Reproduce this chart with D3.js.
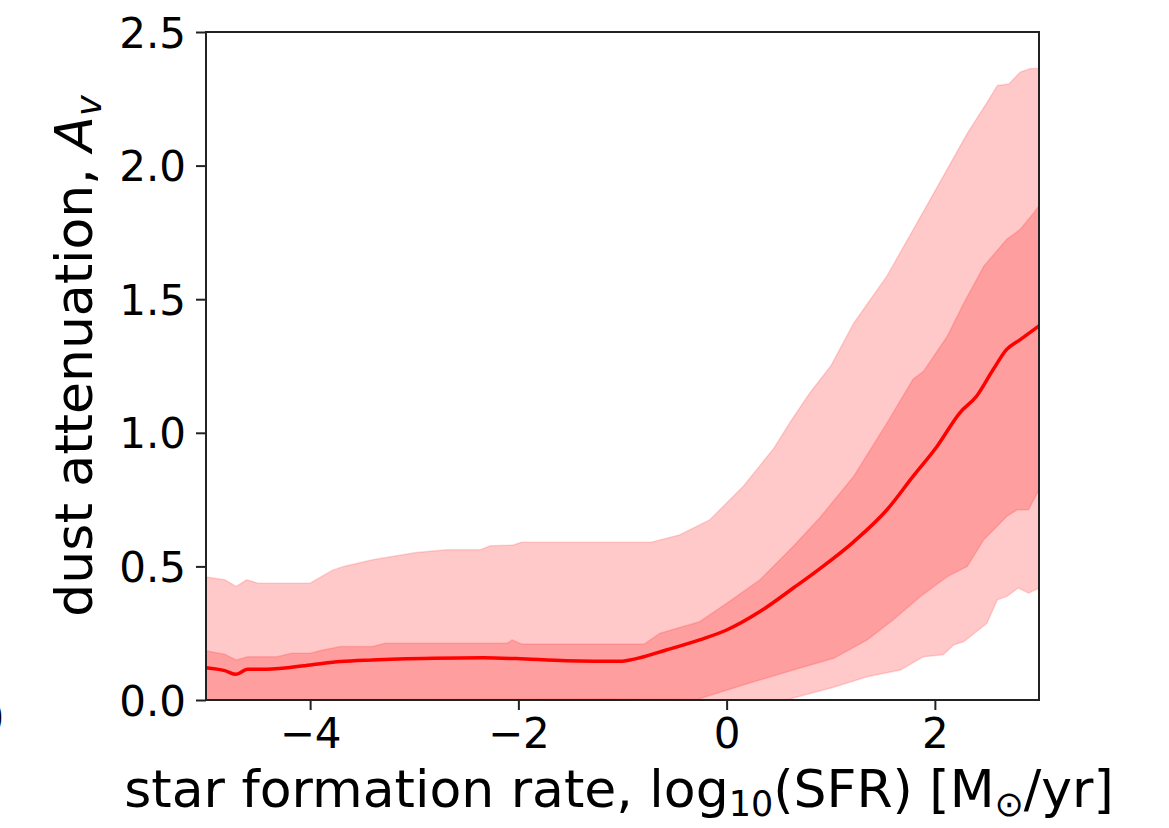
<!DOCTYPE html>
<html>
<head>
<meta charset="utf-8">
<script src="https://cdn.jsdelivr.net/npm/d3@7"></script>
<style>
  body { margin: 0; background: #fff; }
  text { font-family: "DejaVu Sans", sans-serif; fill: #000; }
</style>
</head>
<body>
<div id="chart"></div>
<script>
// percentile bands of A_v versus log10(SFR)
var outerUpper = [[-5, 0.46], [-4.82, 0.45], [-4.71, 0.425], [-4.61, 0.45], [-4.5, 0.437], [-4.0, 0.437],
  [-3.79, 0.485], [-3.68, 0.50], [-3.40, 0.525], [-3.17, 0.54], [-2.98, 0.552], [-2.69, 0.562],
  [-2.37, 0.562], [-2.27, 0.577], [-2.05, 0.58], [-1.97, 0.59], [-0.73, 0.59], [-0.45, 0.618],
  [-0.16, 0.675], [0.16, 0.80], [0.45, 0.94], [0.61, 1.04], [0.8, 1.15], [1.0, 1.25], [1.22, 1.41],
  [1.54, 1.587], [1.83, 1.787], [2.08, 1.96], [2.31, 2.12], [2.50, 2.236], [2.60, 2.30], [2.71, 2.305],
  [2.82, 2.35], [2.92, 2.363], [3.0, 2.363]];
var outerLower = [[-5, 0], [0.57, 0], [1.02, 0.047], [1.35, 0.087], [1.67, 0.112], [1.89, 0.162],
  [2.08, 0.169], [2.18, 0.206], [2.28, 0.219], [2.50, 0.287], [2.60, 0.375], [2.69, 0.387],
  [2.80, 0.419], [2.90, 0.40], [3.0, 0.419]];
var innerUpper = [[-5, 0.184], [-4.82, 0.171], [-4.71, 0.15], [-4.6, 0.162], [-4.32, 0.162], [-4.18, 0.175],
  [-4.0, 0.175], [-3.9, 0.185], [-3.71, 0.20], [-3.40, 0.20], [-3.28, 0.212], [-2.11, 0.212],
  [-2.06, 0.225], [-1.97, 0.21], [-0.79, 0.21], [-0.64, 0.25], [-0.26, 0.293], [0.0, 0.362],
  [0.32, 0.45], [0.64, 0.575], [0.89, 0.68], [1.22, 0.837], [1.54, 1.037], [1.79, 1.20], [1.89, 1.23],
  [2.12, 1.362], [2.28, 1.487], [2.47, 1.624], [2.69, 1.724], [2.82, 1.762], [2.95, 1.824], [3.0, 1.85]];
var innerLower = [[-5, 0], [-0.26, 0.005], [0.16, 0.056], [0.64, 0.112], [1.03, 0.156], [1.35, 0.225],
  [1.60, 0.30], [1.86, 0.387], [2.12, 0.462], [2.31, 0.50], [2.47, 0.60], [2.69, 0.687], [2.79, 0.712],
  [2.90, 0.712], [3.0, 0.787]];
var median = [[-5, 0.121], [-4.82, 0.11], [-4.71, 0.096], [-4.6, 0.115], [-4.42, 0.115], [-4.0, 0.131],
  [-3.71, 0.144], [-3.40, 0.15], [-2.82, 0.156], [-2.34, 0.158], [-2.02, 0.155], [-1.54, 0.147],
  [-1.02, 0.145], [-0.9, 0.152], [-0.58, 0.187], [-0.26, 0.225], [0.0, 0.262], [0.32, 0.331],
  [0.64, 0.419], [0.89, 0.49], [1.22, 0.592], [1.54, 0.712], [1.79, 0.837], [2.02, 0.949],
  [2.24, 1.075], [2.40, 1.137], [2.56, 1.237], [2.69, 1.312], [2.82, 1.349], [3.0, 1.40]];

var xTicks = [-4, -2, 0, 2];
var yTicks = [0, 0.5, 1.0, 1.5, 2.0, 2.5];

var width = 1169,
    height = 828,
    margin = {top: 32, right: 130, bottom: 128, left: 206};

var svg = d3.select("#chart").append("svg")
    .attr("width", width)
    .attr("height", height);

var x = d3.scaleLinear()
    .domain([-5, 3])
    .range([margin.left, width - margin.right]);

var y = d3.scaleLinear()
    .domain([0, 2.5])
    .range([height - margin.bottom, margin.top]);

var line = d3.line()
    .x(function(d) { return x(d[0]); })
    .y(function(d) { return y(d[1]); });

// band = upper edge then lower edge walked backwards
function band(upper, lower) {
  return line(upper.concat(lower.slice().reverse())) + "Z";
}

svg.append("clipPath")
    .attr("id", "plot-clip")
  .append("rect")
    .attr("x", margin.left)
    .attr("y", margin.top)
    .attr("width", width - margin.left - margin.right)
    .attr("height", height - margin.top - margin.bottom);

var plot = svg.append("g").attr("clip-path", "url(#plot-clip)");

plot.append("path")
    .attr("d", band(outerUpper, outerLower))
    .attr("fill", "#ff0000")
    .attr("fill-opacity", 0.21)
    .attr("stroke", "#ff0000")
    .attr("stroke-opacity", 0.15)
    .attr("stroke-width", 1.5);

plot.append("path")
    .attr("d", band(innerUpper, innerLower))
    .attr("fill", "#ff0000")
    .attr("fill-opacity", 0.21)
    .attr("stroke", "#ff0000")
    .attr("stroke-opacity", 0.15)
    .attr("stroke-width", 1.5);

plot.append("path")
    .attr("d", d3.line()
      .x(function(d) { return x(d[0]); })
      .y(function(d) { return y(d[1]); })
      .curve(d3.curveMonotoneX)(median))
    .attr("fill", "none")
    .attr("stroke", "#ff0000")
    .attr("stroke-width", 3.5);

// axes
var xAxis = svg.append("g")
    .attr("transform", "translate(0," + (height - margin.bottom) + ")")
    .call(d3.axisBottom(x).tickValues(xTicks).tickSize(10).tickPadding(8)
      .tickFormat(function(d) { return d < 0 ? "\u2212" + Math.abs(d) : d; }));

var yAxis = svg.append("g")
    .attr("transform", "translate(" + margin.left + ",0)")
    .call(d3.axisLeft(y).tickValues(yTicks).tickSize(10).tickPadding(10).tickFormat(d3.format(".1f")));

[xAxis, yAxis].forEach(function(a) {
  a.select(".domain").remove();
  a.selectAll(".tick line").attr("stroke", "#222").attr("stroke-width", 2);
  a.selectAll(".tick text").style("font-size", "42px").attr("fill", "#000");
});
yAxis.selectAll(".tick text").attr("dy", "0.36em");

// frame
svg.append("rect")
    .attr("x", margin.left)
    .attr("y", margin.top)
    .attr("width", width - margin.left - margin.right)
    .attr("height", height - margin.top - margin.bottom)
    .attr("fill", "none")
    .attr("stroke", "#222")
    .attr("stroke-width", 2);

// axis labels
var xl = svg.append("text")
    .attr("x", 619)
    .attr("y", 807)
    .attr("text-anchor", "middle")
    .style("font-size", "52px");
xl.append("tspan").text("star formation rate, log");
xl.append("tspan").text("10").style("font-size", "35px").attr("dy", 9);
xl.append("tspan").text("(SFR) [M").attr("dy", -9);
xl.append("tspan").text("\u2299").style("font-size", "35px").attr("dy", 9);
xl.append("tspan").text("/yr]").attr("dy", -9);

var yl = svg.append("text")
    .attr("transform", "translate(92," + 356 + ")rotate(-90)")
    .attr("text-anchor", "middle")
    .style("font-size", "52px");
yl.append("tspan").text("dust attenuation, ");
yl.append("tspan").text("A").style("font-style", "italic");
yl.append("tspan").text("v").style("font-style", "italic").style("font-size", "35px").attr("dy", 9);

// clipped edge of the neighbouring panel
svg.append("text")
    .attr("x", 4)
    .attr("y", 733)
    .attr("text-anchor", "end")
    .style("font-size", "42px")
    .text("0");
</script>
</body>
</html>
